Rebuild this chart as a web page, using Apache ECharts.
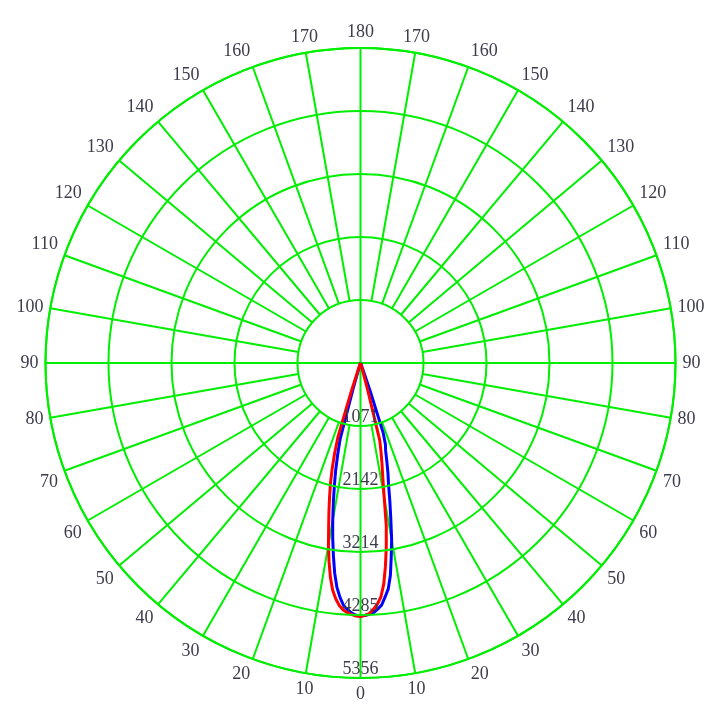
<!DOCTYPE html>
<html>
<head>
<meta charset="utf-8">
<script src="https://cdn.jsdelivr.net/npm/echarts@6/dist/echarts.min.js"></script>
<style>
html,body{margin:0;padding:0;background:#fff;}
#chart{width:721px;height:725px;}
</style>
</head>
<body>
<div id="chart"></div>
<script>
// Gamma angles (degrees from nadir)
const gamma = [0,1,2,3,4,5,6,7,8,9,10,11,12,13,14,15,16,17,18,19,20,21,22,25,30,40,60,90,120,150,180];
// Blue curve (C0-C180): left half and right half intensities
const blueLeft  = [4300,4290,4256,4200,4133,4000,3836,3600,3310,3020,2720,2420,2140,1880,1600,1340,450,100,15,0,0,0,0,0,0,0,0,0,0,0,0];
const blueRight = [4300,4295,4275,4250,4195,4130,4000,3870,3650,3340,3050,2700,2400,2120,1930,1730,1550,1450,1250,500,100,20,0,0,0,0,0,0,0,0,0];
// Red curve (C90-C270)
const redLeft   = [4310,4302,4282,4250,4210,4140,4030,3890,3680,3420,3140,2840,2580,2340,2110,1860,1600,1300,500,120,20,0,0,0,0,0,0,0,0,0,0];
const redRight  = [4310,4292,4262,4195,4110,3990,3780,3480,3150,2800,2320,1990,1760,1550,1350,450,100,15,0,0,0,0,0,0,0,0,0,0,0,0,0];
// Radius scale
const radiusMax = 5356;
const ringStep = 1071.2;
const spokeAngles = [];
for (let a = 0; a < 360; a += 10) spokeAngles.push(a);

const GREEN = '#00ee00';
const TXT = '#3c3c4c';
const FONT = 'Liberation Serif';

function closed(left, right) {
  const d = [];
  for (let i = gamma.length - 1; i >= 0; i--) d.push([left[i], gamma[i]]);
  for (let i = 0; i < gamma.length; i++) d.push([right[i], 360 - gamma[i]]);
  return d;
}

const series = [];
spokeAngles.forEach(a => {
  const full = (a % 90 === 0);
  series.push({
    type: 'line', coordinateSystem: 'polar', silent: true, symbol: 'none',
    data: [[full ? 0 : ringStep, a], [radiusMax, a]],
    lineStyle: {color: GREEN, width: 2}, z: 1, animation: false
  });
});
series.push({
  name: 'C0-C180', type: 'line', coordinateSystem: 'polar', symbol: 'none',
  data: closed(blueLeft, blueRight), lineStyle: {color: '#0000ff', width: 3}, z: 3
});
series.push({
  name: 'C90-C270', type: 'line', coordinateSystem: 'polar', symbol: 'none',
  data: closed(redLeft, redRight), lineStyle: {color: '#ff0000', width: 3}, z: 4
});

const chart = echarts.init(document.getElementById('chart'), null, {renderer: 'canvas'});
chart.setOption({
  animation: false,
  backgroundColor: '#ffffff',
  polar: {center: [360.5, 363], radius: 315},
  angleAxis: {
    type: 'value', min: 0, max: 360, interval: 10, startAngle: 270, clockwise: true,
    axisLine: {show: true, lineStyle: {color: GREEN, width: 2}},
    axisTick: {show: false},
    splitLine: {show: false},
    axisLabel: {
      show: true, margin: 7, color: TXT, fontFamily: FONT, fontSize: 18,
      formatter: v => (v <= 180 ? v : 360 - v).toString()
    }
  },
  radiusAxis: {
    type: 'value', min: 0, max: radiusMax, interval: ringStep,
    axisLine: {show: false}, axisTick: {show: false},
    splitLine: {show: true, lineStyle: {color: GREEN, width: 2}},
    axisLabel: {
      show: true, margin: 0, color: TXT, fontFamily: FONT, fontSize: 18,
      align: 'center', verticalAlign: 'bottom', rotate: 0,
      formatter: v => (v === 0 ? '' : Math.round(v).toString())
    },
    z: 10
  },
  series: series
});
</script>
</body>
</html>
